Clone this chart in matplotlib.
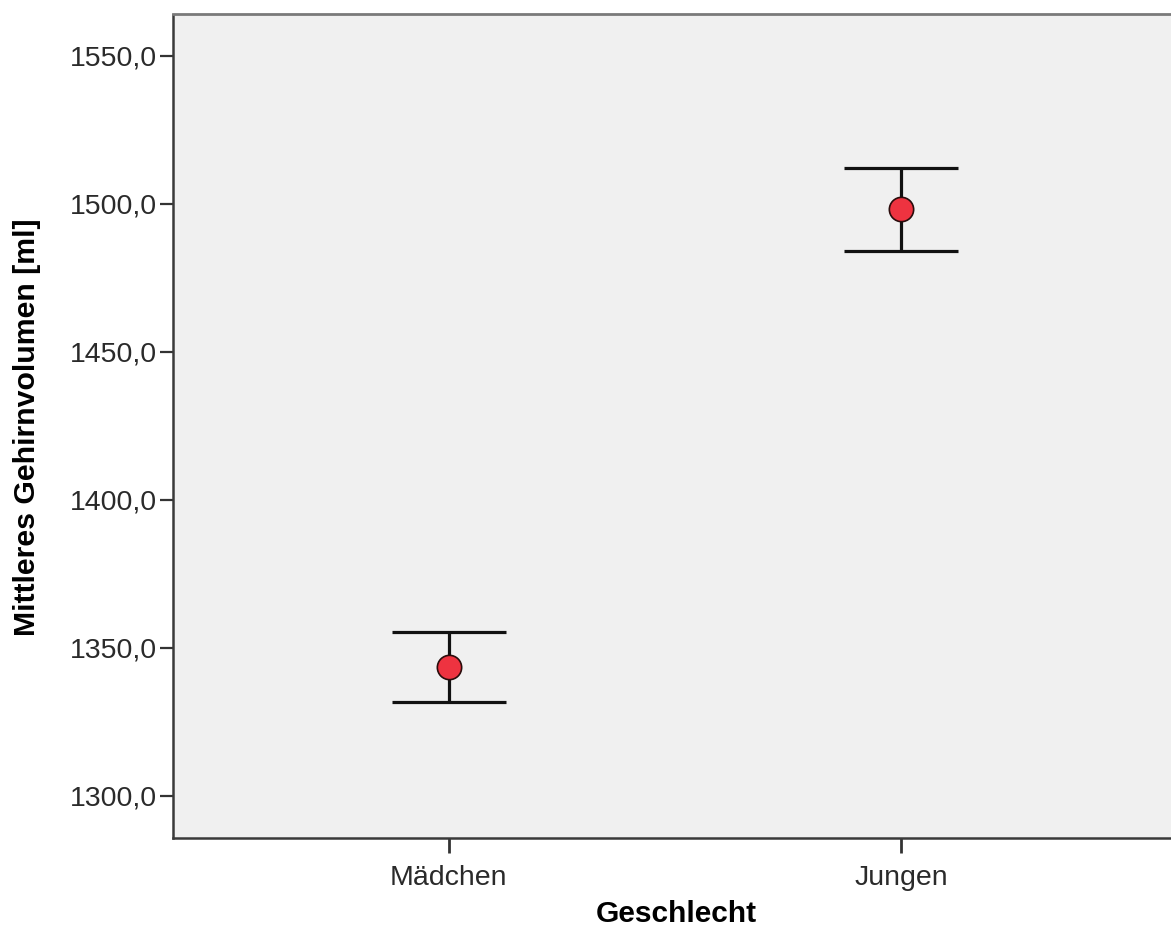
import matplotlib
matplotlib.use("Agg")
import matplotlib.pyplot as plt
import numpy as np

categories = ["Mädchen", "Jungen"]
means = [1343.6, 1498.2]
ci_low = [1331.8, 1484.1]
ci_high = [1355.4, 1512.2]
y_ticks = [1300, 1350, 1400, 1450, 1500, 1550]
y_tick_labels = ["1300,0", "1350,0", "1400,0", "1450,0", "1500,0", "1550,0"]

plt.rcParams['font.family'] = ['Liberation Sans', 'DejaVu Sans']

W, H = 1171, 938
fig = plt.figure(figsize=(W / 100, H / 100), dpi=100)
fig.patch.set_facecolor('white')
left, right, top, bottom = 173, 1177, 14.5, 838
ax = fig.add_axes([left / W, 1 - bottom / H, (right - left) / W, (bottom - top) / H])
ax.set_facecolor('#F0F0F0')

x = np.arange(len(categories))
means_a = np.array(means)
yerr = np.vstack([means_a - np.array(ci_low), np.array(ci_high) - means_a])

ax.errorbar(x, means_a, yerr=yerr, fmt='none', ecolor='#111111', elinewidth=2.3,
            capsize=40.7, capthick=2.3, zorder=2)
ax.plot(x, means_a, linestyle='none', marker='o', markersize=17.5,
        markerfacecolor='#EE3340', markeredgecolor='#2a0c0c', markeredgewidth=1.2, zorder=3)

ax.set_xlim(-0.61, 1.61)
ax.set_ylim(1285.8, 1564.0)
ax.set_xticks(x)
ax.set_xticklabels(categories)
ax.set_yticks(y_ticks)
ax.set_yticklabels(y_tick_labels)

ax.tick_params(axis='y', length=9.5, width=1.6, pad=2, labelsize=20.5,
               color='#333333', labelcolor='#2a2a2a')
ax.tick_params(axis='x', length=10.8, width=2.0, pad=8.5, labelsize=20.5,
               color='#333333', labelcolor='#2a2a2a')

for s in ['left', 'bottom']:
    ax.spines[s].set_color('#3a3a3a')
    ax.spines[s].set_linewidth(1.8)
ax.spines['top'].set_color('#7a7a7a')
ax.spines['top'].set_linewidth(2.0)
ax.spines['right'].set_visible(False)

ax.set_ylabel("Mittleres Gehirnvolumen [ml]", fontsize=21.8, fontweight='bold', color='black')
ax.set_xlabel("Geschlecht", fontsize=21.5, fontweight='bold', color='black')
ax_w = right - left
ax_h = bottom - top
ax.yaxis.set_label_coords((27 - left) / ax_w, (bottom - 427) / ax_h)
ax.yaxis.label.set_va('center')
ax.xaxis.set_label_coords((676 - left) / ax_w, (bottom - 914) / ax_h)
ax.xaxis.label.set_va('center')

fig.savefig("out.png", dpi=100)
